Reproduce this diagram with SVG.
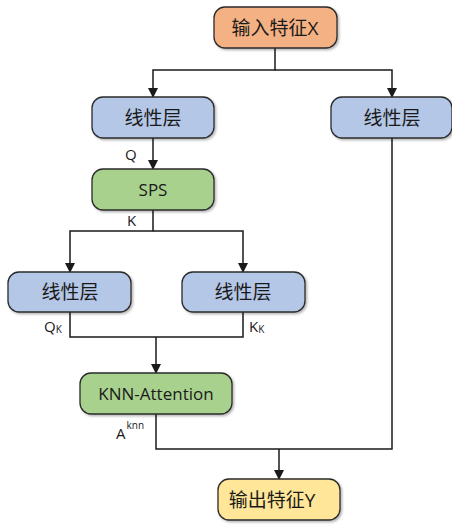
<svg xmlns="http://www.w3.org/2000/svg" width="452" height="525" viewBox="0 0 452 525">
<style>
.n{stroke:#2b2b2b;stroke-width:1.3;filter:url(#sh)}
.t{font-family:"Open Sans","Noto Sans CJK SC",sans-serif;font-size:19px;fill:#1a1a1a;text-anchor:middle;dominant-baseline:central}
.e{font-size:17px}
.l{font-family:"Open Sans","Noto Sans CJK SC",sans-serif;font-size:15px;fill:#1a1a1a}
.s{font-size:10px}
.c{fill:none;stroke:#1a1a1a;stroke-width:1.5}
</style>
<defs>
<filter id="sh" x="-10%" y="-20%" width="130%" height="150%"><feDropShadow dx="1.5" dy="1.5" stdDeviation="1" flood-color="#000" flood-opacity="0.3"/></filter>
<marker id="a" markerWidth="10" markerHeight="10" refX="9" refY="5" orient="auto" markerUnits="userSpaceOnUse"><path d="M0,0 L10,5 L0,10 z" fill="#1a1a1a"/></marker>
</defs>
<rect width="452" height="525" fill="#fff"/>
<g id="connectors">
<path class="c" d="M275,48 V70 H153 V97" marker-end="url(#a)"/>
<path class="c" d="M275,70 H392 V97" marker-end="url(#a)"/>
<path class="c" d="M153,138 V169" marker-end="url(#a)"/>
<path class="c" d="M153,210 V231 H70 V272" marker-end="url(#a)"/>
<path class="c" d="M153,231 H243 V272" marker-end="url(#a)"/>
<path class="c" d="M70,312 V337 H243 V312"/>
<path class="c" d="M156,337 V373" marker-end="url(#a)"/>
<path class="c" d="M156,414 V449 H392 V138"/>
<path class="c" d="M279,449 V479" marker-end="url(#a)"/>
<text class="l" x="125" y="160">Q</text>
<text class="l" x="127" y="226">K</text>
<text class="l" x="44" y="332">Q<tspan class="s" dy="1">K</tspan></text>
<text class="l" x="249" y="332">K<tspan class="s" dy="1">K</tspan></text>
<text class="l" x="116" y="439">A<tspan class="s" dx="1" dy="-10">knn</tspan></text>
</g>
<g id="input"><rect class="n" x="214" y="7" width="123" height="41" rx="11" fill="#F4B183"/><text class="t" x="275" y="27.5">输入特征X</text></g>
<g id="linear1"><rect class="n" x="92" y="97" width="122" height="41" rx="11" fill="#B4C7E7"/><text class="t" x="153" y="117.5">线性层</text></g>
<g id="linear2"><rect class="n" x="331" y="97" width="121" height="41" rx="11" fill="#B4C7E7"/><text class="t" x="392" y="117.5">线性层</text></g>
<g id="sps"><rect class="n" x="92" y="169" width="122" height="41" rx="11" fill="#A9D18E"/><text class="t e" x="153" y="189.5">SPS</text></g>
<g id="linear3"><rect class="n" x="8" y="272" width="123" height="40" rx="11" fill="#B4C7E7"/><text class="t" x="70" y="292">线性层</text></g>
<g id="linear4"><rect class="n" x="182" y="272" width="123" height="40" rx="11" fill="#B4C7E7"/><text class="t" x="243" y="292">线性层</text></g>
<g id="knn"><rect class="n" x="80" y="373" width="152" height="41" rx="11" fill="#A9D18E"/><text class="t e" x="156" y="393.5">KNN-Attention</text></g>
<g id="output"><rect class="n" x="218" y="479" width="122" height="41" rx="11" fill="#FFE699"/><text class="t" x="272" y="499.5">输出特征Y</text></g>
</svg>
